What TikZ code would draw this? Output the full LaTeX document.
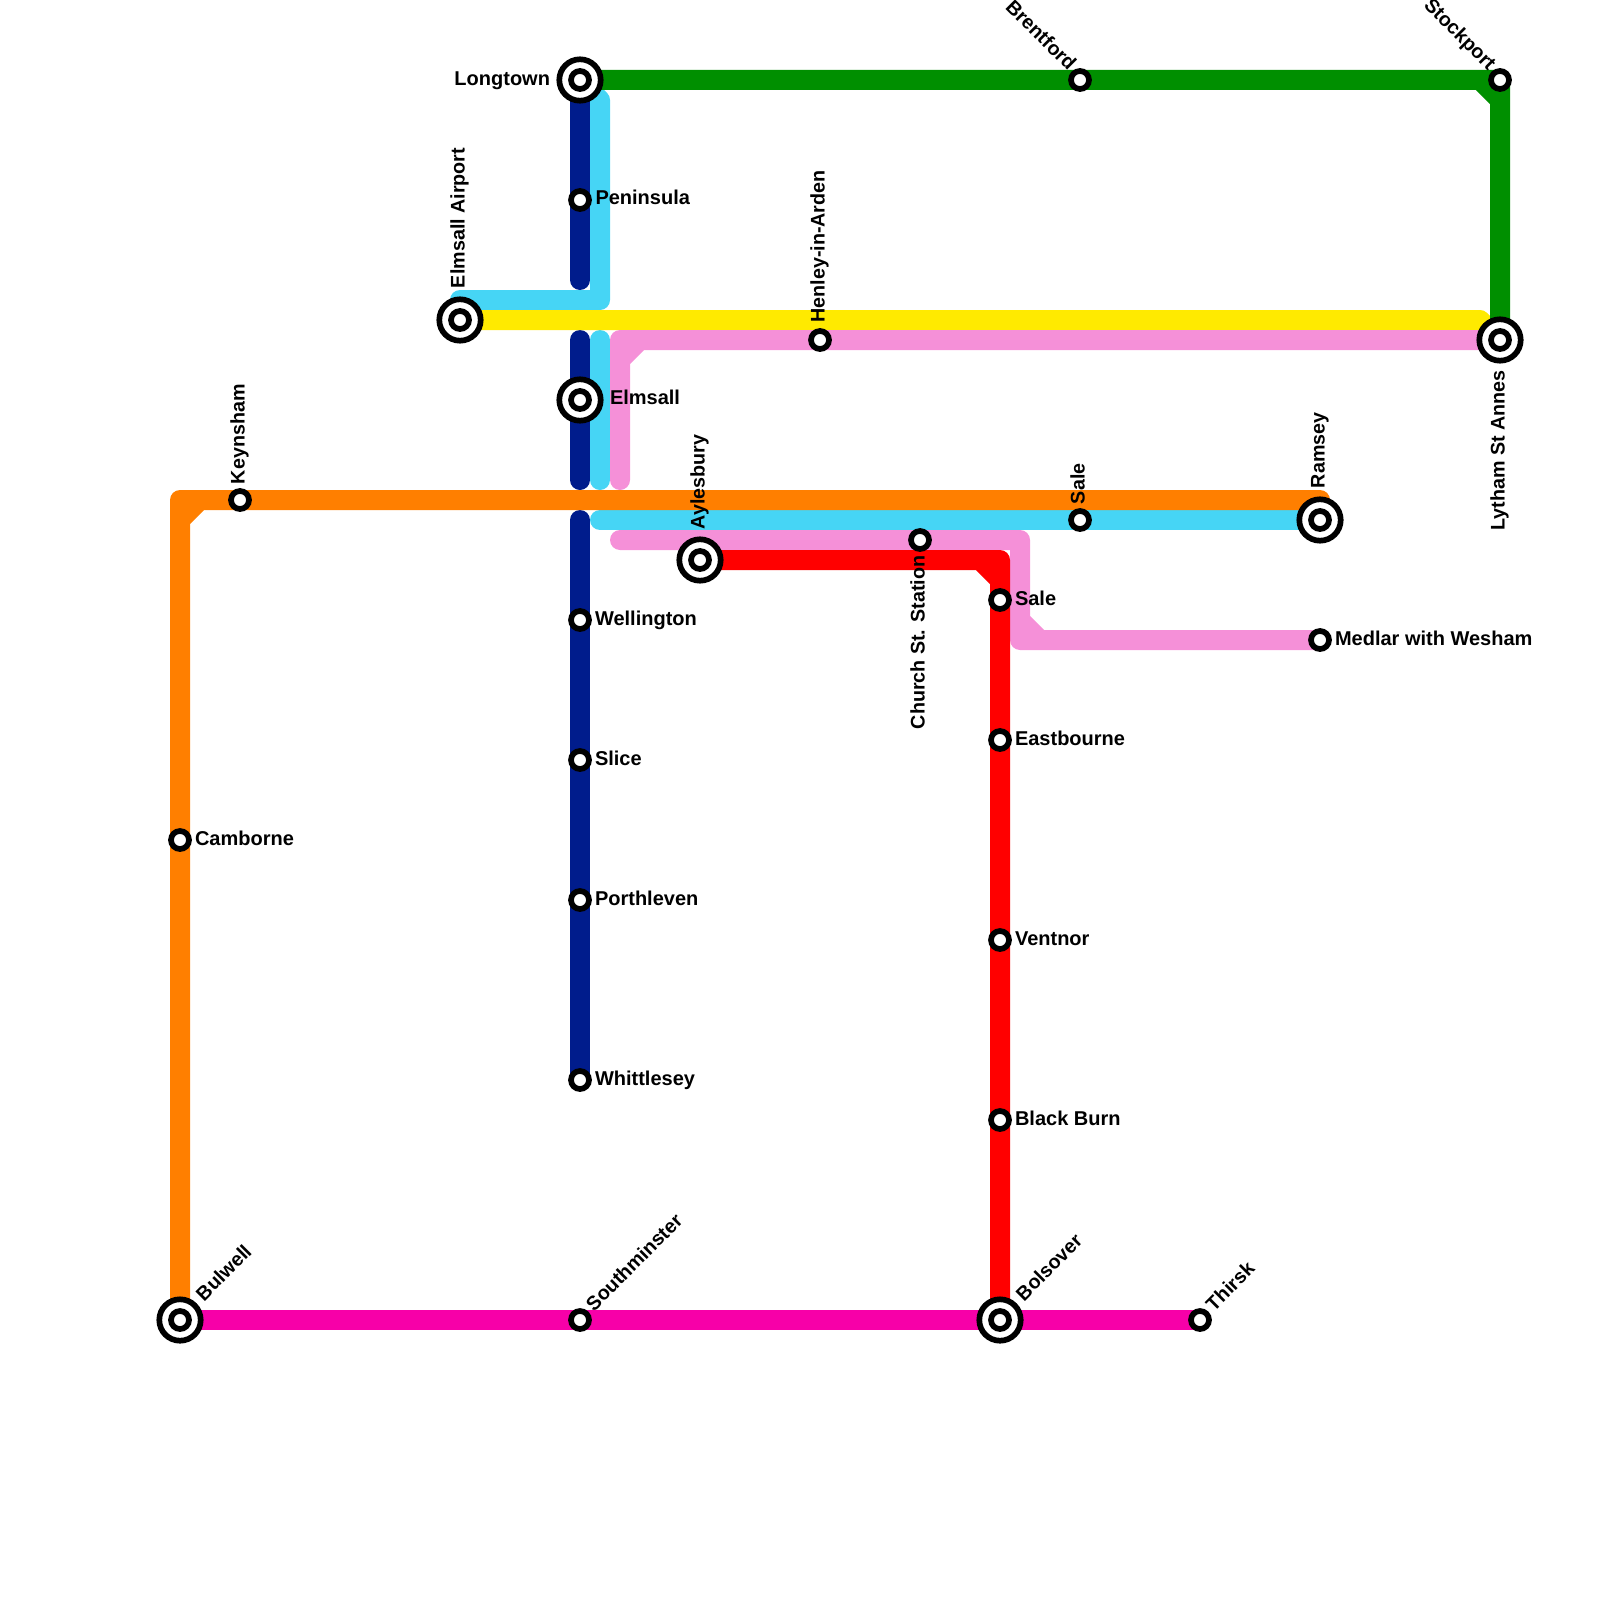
\documentclass[tikz,border=0pt]{standalone}
\usepackage{fontspec}
\setmainfont{Liberation Sans}
\usetikzlibrary{backgrounds}
\definecolor{cOrange}{HTML}{FF7F00}
\definecolor{cNavy}{HTML}{001C8C}
\definecolor{cCyan}{HTML}{46D5F5}
\definecolor{cYellow}{HTML}{FFEA00}
\definecolor{cPink}{HTML}{F590D8}
\definecolor{cRed}{HTML}{FF0000}
\definecolor{cGreen}{HTML}{008F00}
\definecolor{cMagenta}{HTML}{F700A8}
\tikzset{
  ln/.style={line width=20pt,line cap=round,line join=round},
  smallst/.style={circle,draw=black,fill=white,line width=5.7pt,minimum size=18pt,inner sep=0pt,outer sep=0pt},
  bigst/.style={circle,draw=black,fill=white,line width=5.7pt,minimum size=41.4pt,inner sep=0pt,outer sep=0pt},
  lab/.style={inner sep=0pt,outer sep=0pt,font=\fontsize{20}{22}\selectfont\bfseries,text=black},
  labr/.style={inner sep=0pt,outer sep=0pt,font=\fontsize{19.7}{22}\selectfont\bfseries,text=black},
  lr/.style={lab,anchor=base west},
  ll/.style={lab,anchor=base east},
  lup/.style={labr,anchor=base west,rotate=90},
  ldn/.style={labr,anchor=base east,rotate=90},
  lne/.style={labr,anchor=base west,rotate=45},
  lnw/.style={labr,anchor=base east,rotate=-45}
}
\begin{document}
\begin{tikzpicture}[x=1pt,y=-1pt]
\useasboundingbox (0,0) rectangle (1600,1600);
% big stations
\node[bigst] (longtown) at (580,80) {};
\node[smallst] (longtownI) at (longtown) {};
\node[bigst] (airport) at (460,320) {};
\node[smallst] (airportI) at (airport) {};
\node[bigst] (elmsall) at (580,400) {};
\node[smallst] (elmsallI) at (elmsall) {};
\node[bigst] (aylesbury) at (700,560) {};
\node[smallst] (aylesburyI) at (aylesbury) {};
\node[bigst] (ramsey) at (1320,520) {};
\node[smallst] (ramseyI) at (ramsey) {};
\node[bigst] (lytham) at (1500,340) {};
\node[smallst] (lythamI) at (lytham) {};
\node[bigst] (bulwell) at (180,1320) {};
\node[smallst] (bulwellI) at (bulwell) {};
\node[bigst] (bolsover) at (1000,1320) {};
\node[smallst] (bolsoverI) at (bolsover) {};
% small stations
\node[smallst] (peninsula) at (580,200) {};
\node[smallst] (wellington) at (580,620) {};
\node[smallst] (slice) at (580,760) {};
\node[smallst] (porthleven) at (580,900) {};
\node[smallst] (whittlesey) at (580,1080) {};
\node[smallst] (southminster) at (580,1320) {};
\node[smallst] (brentford) at (1080,80) {};
\node[smallst] (stockport) at (1500,80) {};
\node[smallst] (henley) at (820,340) {};
\node[smallst] (keynsham) at (240,500) {};
\node[smallst] (camborne) at (180,840) {};
\node[smallst] (salea) at (1080,520) {};
\node[smallst] (church) at (920,540) {};
\node[smallst] (saleb) at (1000,600) {};
\node[smallst] (medlar) at (1320,640) {};
\node[smallst] (eastbourne) at (1000,740) {};
\node[smallst] (ventnor) at (1000,940) {};
\node[smallst] (blackburn) at (1000,1120) {};
\node[smallst] (thirsk) at (1200,1320) {};
% corner points and free ends
\coordinate (cyA) at (600,100);
\coordinate (cyB) at (600,300);
\coordinate (cyC) at (460,300);
\coordinate (cyD) at (600,340);
\coordinate (cyE) at (600,480);
\coordinate (cyF) at (600,520);
\coordinate (naA) at (580,280);
\coordinate (naB) at (580,340);
\coordinate (naC) at (580,480);
\coordinate (naD) at (580,520);
\coordinate (yeA) at (1480,320);
\coordinate (piA) at (620,480);
\coordinate (piB) at (620,340);
\coordinate (piC) at (620,360);
\coordinate (piD) at (640,340);
\coordinate (piE) at (620,540);
\coordinate (piF) at (1020,540);
\coordinate (piG) at (1020,640);
\coordinate (piH) at (1020,620);
\coordinate (piI) at (1040,640);
\coordinate (orA) at (180,500);
\coordinate (orB) at (180,520);
\coordinate (orC) at (200,500);
\coordinate (orD) at (1320,500);
\coordinate (grA) at (1500,80);
\coordinate (grB) at (1480,80);
\coordinate (grC) at (1500,100);
\coordinate (reA) at (1000,560);
\coordinate (reB) at (980,560);
\coordinate (reC) at (1000,580);
\begin{pgfonlayer}{background}
\draw[ln,cCyan] (longtown.center) -- (cyA) -- (cyB) -- (cyC) -- (airport.center);
\draw[ln,cCyan] (cyD) -- (cyE);
\draw[ln,cCyan] (cyF) -- (ramsey.center);
\draw[ln,cNavy] (longtown.center) -- (naA);
\draw[ln,cNavy] (naB) -- (naC);
\draw[ln,cNavy] (naD) -- (whittlesey.center);
\draw[ln,cYellow] (airport.center) -- (yeA) -- (lytham.center);
\draw[ln,cPink] (piA) -- (piB) -- (lytham.center) (piC) -- (piD);
\draw[ln,cPink] (piE) -- (piF) -- (piG) -- (medlar.center) (piH) -- (piI);
\draw[ln,cOrange] (bulwell.center) -- (orA) -- (orD) -- (ramsey.center) (orB) -- (orC);
\draw[ln,cGreen] (longtown.center) -- (grA) -- (lytham.center) (grB) -- (grC);
\draw[ln,cRed] (aylesbury.center) -- (reA) -- (bolsover.center) (reB) -- (reC);
\draw[ln,cMagenta] (bulwell.center) -- (thirsk.center);
\end{pgfonlayer}
% labels
\node[ll] (tLongtown) at (550,85.5) {Longtown};
\node[lup] (tAirport) at (464.5,288) {Elmsall Airport};
\node[lr] (tPeninsula) at (595.5,204.5) {Peninsula};
\node[lr] (tElmsall) at (610,404.5) {Elmsall};
\node[lup] (tHenley) at (824.5,322.5) {Henley-in-Arden};
\node[lnw] (tBrentford) at (1068,71.5) {Brentford};
\node[lnw] (tStockport) at (1488,71.5) {Stockport};
\node[ldn] (tLytham) at (1504.5,370.5) {Lytham St Annes};
\node[lup] (tKeynsham) at (244.5,484) {Keynsham};
\node[lup] (tAylesbury) at (704.5,529) {Aylesbury};
\node[lup] (tSalea) at (1084.5,504) {Sale};
\node[lup] (tRamsey) at (1324.5,488) {Ramsey};
\node[ldn] (tChurch) at (924.5,555.5) {Church St. Station};
\node[lr] (tSaleb) at (1015,605) {Sale};
\node[lr] (tMedlar) at (1335,645) {Medlar with Wesham};
\node[lr] (tWellington) at (595,625) {Wellington};
\node[lr] (tSlice) at (595,765) {Slice};
\node[lr] (tPorthleven) at (595,905) {Porthleven};
\node[lr] (tWhittlesey) at (595,1085) {Whittlesey};
\node[lr] (tCamborne) at (195,845) {Camborne};
\node[lr] (tEastbourne) at (1015,745) {Eastbourne};
\node[lr] (tVentnor) at (1015,945) {Ventnor};
\node[lr] (tBlackburn) at (1015,1125) {Black Burn};
\node[lne] (tBulwell) at (204,1302) {Bulwell};
\node[lne] (tSouthminster) at (594,1312) {Southminster};
\node[lne] (tBolsover) at (1024,1302) {Bolsover};
\node[lne] (tThirsk) at (1214,1312) {Thirsk};
\end{tikzpicture}
\end{document}
